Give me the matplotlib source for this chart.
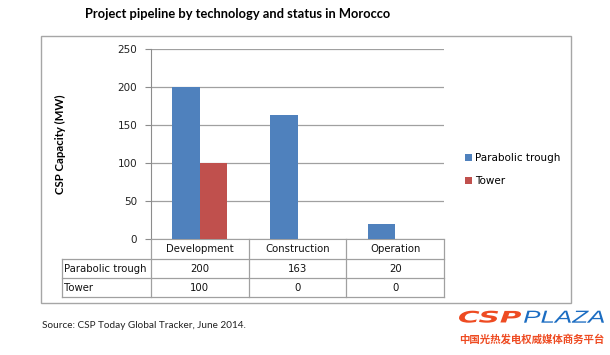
import numpy as np
import matplotlib.pyplot as plt
from matplotlib.lines import Line2D
from matplotlib.patches import Rectangle, PathPatch
from matplotlib.textpath import TextPath
from matplotlib.font_manager import FontProperties
from matplotlib.transforms import Affine2D

# data
categories = ['Development', 'Construction', 'Operation']
series_names = ['Parabolic trough', 'Tower']
trough = [200, 163, 20]
tower = [100, 0, 0]
colors = ['#4f81bd', '#c0504d']
yticks = [0, 50, 100, 150, 200, 250]

W, H = 610, 355
fig = plt.figure(figsize=(W / 100, H / 100), dpi=100)

def fx(px):
    return px / W

def fy(py):
    return 1 - py / H

# outer chart frame
fig.patches.append(Rectangle((fx(41), fy(303)), fx(571) - fx(41), fy(36) - fy(303),
                             transform=fig.transFigure, fill=False,
                             edgecolor='#a6a6a6', lw=1.0))

ax = fig.add_axes([fx(151), fy(239), fx(444) - fx(151), fy(49) - fy(239)])
x = np.arange(len(categories))
bw = 0.28
b1 = ax.bar(x - bw / 2, trough, bw, color=colors[0], zorder=3)
b2 = ax.bar(x + bw / 2, tower, bw, color=colors[1], zorder=3)

ax.set_xlim(-0.5, len(categories) - 0.5)
ax.set_ylim(0, 250)
ax.set_yticks(yticks)
ax.set_xticks([])
ax.yaxis.grid(True, color='#a0a0a0', lw=0.9)
ax.set_axisbelow(True)
for s in ['top', 'right']:
    ax.spines[s].set_visible(False)
ax.spines['left'].set_color('#8c8c8c')
ax.spines['bottom'].set_color('#a0a0a0')
ax.tick_params(axis='y', length=4, color='#8c8c8c', labelsize=7.5, pad=6,
               labelcolor='#222222')
ax.set_ylabel('CSP Capacity (MW)', fontsize=8.2, fontweight='bold', family='Lato')
ax.yaxis.set_label_coords((66 - 151) / (444 - 151), 0.5)

# data table under the plot
tc = '#a0a0a0'
tr = ax.get_xaxis_transform()
px_h = 239 - 49
row_edges = [0, -20 / px_h, -39.3 / px_h, -58.3 / px_h]
label_left = -0.5 - 89 / ((444 - 151) / len(categories))
right = len(categories) - 0.5
kw = dict(transform=tr, clip_on=False, color=tc, lw=0.9)
for y in row_edges[1:]:
    ax.add_line(Line2D([label_left, right], [y, y], **kw))
for i in range(len(categories) + 1):
    ax.add_line(Line2D([i - 0.5, i - 0.5], [0, row_edges[-1]], **kw))
ax.add_line(Line2D([label_left, label_left], [row_edges[1], row_edges[-1]], **kw))

txt = dict(transform=tr, fontsize=7.3, va='center', clip_on=False, color='#111111')
for i, c in enumerate(categories):
    ax.text(i, (row_edges[0] + row_edges[1]) / 2, c, ha='center', **txt)
for r, (name, vals) in enumerate(zip(series_names, [trough, tower])):
    yc = (row_edges[r + 1] + row_edges[r + 2]) / 2
    ax.text(label_left + 0.025, yc, name, ha='left', **txt)
    for i, v in enumerate(vals):
        ax.text(i, yc, str(v), ha='center', **txt)

# legend
fig.legend([b1, b2], series_names, loc='center left',
           bbox_to_anchor=(fx(465), fy(169.5)), frameon=False,
           fontsize=7.5, handlelength=0.65, handleheight=0.65,
           handletextpad=0.35, labelspacing=1.25, borderpad=0, borderaxespad=0)

# title and source
fig.text(fx(238), fy(14.5), 'Project pipeline by technology and status in Morocco',
         ha='center', va='center', fontsize=9.3, fontweight='bold', family='Lato')
fig.text(fx(41.5), fy(326), 'Source: CSP Today Global Tracker, June 2014.',
         ha='left', va='center', fontsize=7.2, family='Lato', color='#222222')


# logo: text paths stretched to fill a pixel box
def logo_word(s, box, color, **fp):
    path = TextPath((0, 0), s, size=1, prop=FontProperties(**fp))
    ext = path.get_extents()
    x0, x1, top, bot = box
    sx = (fx(x1) - fx(x0)) / ext.width
    sy = (fy(top) - fy(bot)) / ext.height
    t = (Affine2D().translate(-ext.x0, -ext.y0).scale(sx, sy)
         .translate(fx(x0), fy(bot)) + fig.transFigure)
    fig.patches.append(PathPatch(path, transform=t, color=color, lw=0))


logo_word('CSP', (459, 521, 310.7, 322.7), '#ee4b22',
          family='DejaVu Sans', weight='bold', style='italic')
logo_word('PLAZA', (524, 604, 310.7, 322.7), '#1c6dc2',
          family='Liberation Sans', style='italic')
fig.text(fx(531.5), fy(339), '中国光热发电权威媒体商务平台', ha='center', va='center',
         fontsize=7.5, fontweight='bold', color='#ee4b22',
         family=['Noto Sans CJK SC', 'DejaVu Sans'])

fig.savefig('out.png', dpi=100)
